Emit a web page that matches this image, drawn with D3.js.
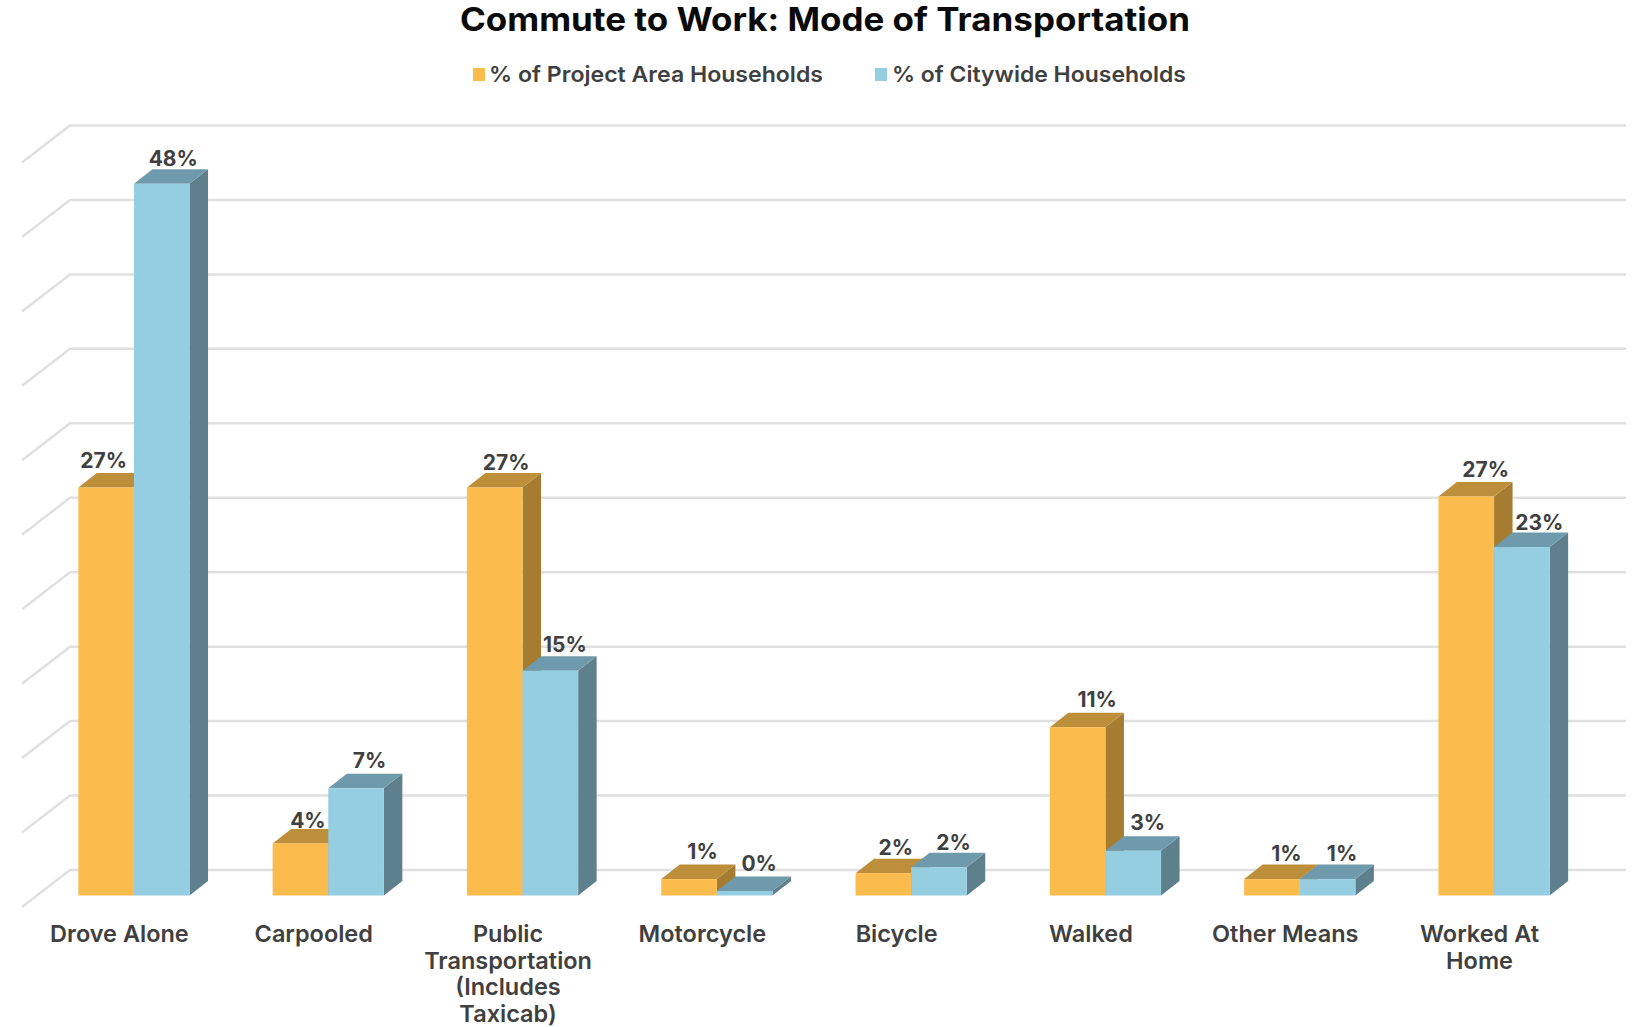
<!DOCTYPE html>
<html><head><meta charset="utf-8">
<script src="https://cdn.jsdelivr.net/npm/d3@7"></script>
<style>
html,body{margin:0;padding:0;background:#fff}
svg{display:block}
text{font-family:Inter,"Open Sans",sans-serif}
</style></head><body>
<svg id="c" width="1643" height="1027"></svg>
<script>
const categories=[["Drove Alone"],["Carpooled"],["Public","Transportation","(Includes","Taxicab)"],["Motorcycle"],["Bicycle"],["Walked"],["Other Means"],["Worked At","Home"]];
const projectValues=[27.4,3.5,27.4,1.1,1.5,11.3,1.1,26.8];
const citywideValues=[47.8,7.2,15.1,0.3,1.9,3.0,1.1,23.4];
const projectLabels=["27%","4%","27%","1%","2%","11%","1%","27%"];
const citywideLabels=["48%","7%","15%","0%","2%","3%","1%","23%"];
const projectNudge=[-15,-5,-1,1,0,7,2,7];
const citywideNudge=[-1,1,2,2,2,2,2,5];
const projectLift=[1,5,3,0,2,0,2,1];
const citywideLift=[3,0,2,0,3,0,2,3];
const seriesNames=["% of Project Area Households","% of Citywide Households"];
const gridTicks=[0,5,10,15,20,25,30,35,40,45,50];

const svg=d3.select("#c");
const floorFront=907, wallDX=48, wallDY=37, barInset=14.5, barInsetY=11.5, sideDX=18.5, sideDY=14.5, barW=55.6;
const y=d3.scaleLinear().domain([0,50]).range([floorFront-wallDY,125.5]);
const x=d3.scaleBand().domain(d3.range(categories.length)).range([22.3,1576.7]);
const colors=[
 {front:"#fcbb4d",top:"#bd8f3a",side:"#a67c30"},
 {front:"#95cde1",top:"#6f9aab",side:"#5e7f8c"}];

svg.append("text").attr("x",825).attr("y",31).attr("text-anchor","middle")
 .attr("font-size",32).attr("font-weight",700).attr("fill","#0a0a0a").text("Commute to Work: Mode of Transportation")
 .attr("textLength",730).attr("lengthAdjust","spacingAndGlyphs");

const legendX=[473,875], legendTextX=[489,892], legendW=[334,294];
seriesNames.forEach((s,i)=>{
 svg.append("rect").attr("x",legendX[i]).attr("y",68).attr("width",12).attr("height",13).attr("fill",colors[i].front);
 svg.append("text").attr("x",legendTextX[i]).attr("y",82).attr("font-size",22).attr("font-weight",600).attr("fill","#404040")
  .attr("textLength",legendW[i]).attr("lengthAdjust","spacingAndGlyphs").text(s);
});

const grid=svg.append("g").attr("fill","none").attr("stroke","#e0e0e0").attr("stroke-width",2.5);
gridTicks.forEach(t=>{
 const yb=y(t);
 grid.append("path").attr("d",d3.line()([[22,yb+wallDY],[22+wallDX,yb],[1626,yb]]));
});

const labels=[];
function bar(g,cat,i,v,lab,nudge,lift){
 const c=colors[i];
 const x0=x(cat)+barInset+(x.bandwidth()-2*barW)/2+i*barW;
 const base=y(0)+wallDY-barInsetY, top=base-(y(0)-y(v));
 g.append("polygon").attr("fill",c.side).attr("points",[[x0+barW,top],[x0+barW+sideDX,top-sideDY],[x0+barW+sideDX,base-sideDY],[x0+barW,base]].join(" "));
 g.append("polygon").attr("fill",c.top).attr("points",[[x0,top],[x0+sideDX,top-sideDY],[x0+barW+sideDX,top-sideDY],[x0+barW,top]].join(" "));
 g.append("rect").attr("x",x0).attr("y",top).attr("width",barW).attr("height",base-top).attr("fill",c.front);
 labels.push({x:x0+barW/2+12.5+nudge,y:top-sideDY-6+lift,t:lab});
}
const gb=svg.append("g");
categories.forEach((_,k)=>{
 bar(gb,k,0,projectValues[k],projectLabels[k],projectNudge[k],projectLift[k]);
 bar(gb,k,1,citywideValues[k],citywideLabels[k],citywideNudge[k],citywideLift[k]);
});
svg.append("g").selectAll("text").data(labels).join("text")
 .attr("x",d=>d.x).attr("y",d=>d.y).attr("text-anchor","middle").attr("font-size",21).attr("font-weight",700).attr("fill","#404040").text(d=>d.t);

categories.forEach((lines,k)=>{
 const t=svg.append("text").attr("text-anchor","middle").attr("font-size",23.5).attr("font-weight",600).attr("fill","#404040");
 lines.forEach((l,j)=>t.append("tspan").attr("x",x(k)+x.bandwidth()/2).attr("y",942+j*26.7).text(l));
});
</script></body></html>
